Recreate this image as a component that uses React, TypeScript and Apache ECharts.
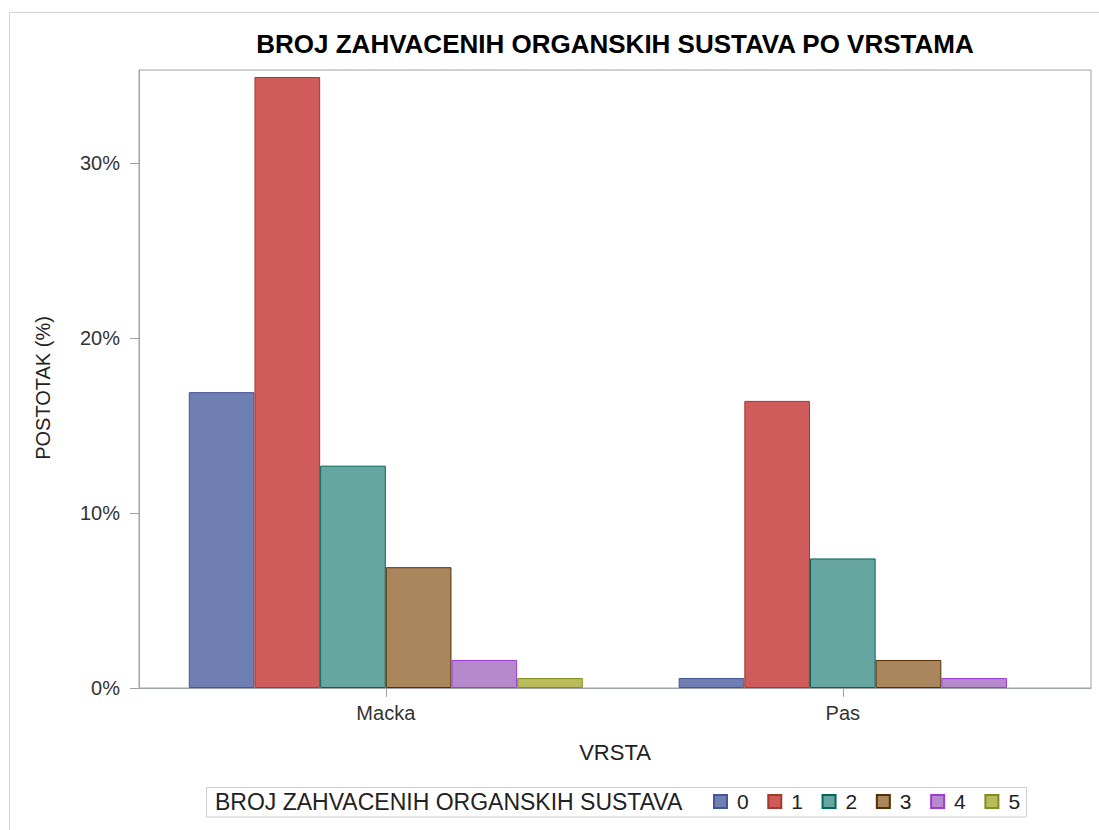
import React, { useEffect, useRef } from "react";
import * as echarts from "echarts";

const categories = ["Macka", "Pas"];
const groups = ["0", "1", "2", "3", "4", "5"];
const mackaValues = [16.9, 34.9, 12.7, 6.9, 1.6, 0.57];
const pasValues = [0.57, 16.4, 7.4, 1.6, 0.57];
const yTicks = [0, 10, 20, 30];
const fillColors = ["#6F7EB3", "#D05B5B", "#66A5A0", "#A9865B", "#B689CD", "#BABC5C"];
const borderColors = ["#445694", "#A23A2E", "#01665E", "#543005", "#9D3CDB", "#7F8E1F"];

const FONT = "Liberation Sans, Arial, sans-serif";

export default function App() {
  const ref = useRef<HTMLDivElement>(null);
  useEffect(() => {
    if (!ref.current) return;
    const chart = echarts.init(ref.current, null, { renderer: "svg" });
    const axisColor = "#9ea2a8";
    const series: any[] = [];
    groups.forEach((g, i) => {
      series.push({
        type: "bar",
        name: g,
        xAxisIndex: 0,
        yAxisIndex: 0,
        barWidth: 65.67,
        barGap: "0%",
        data: [[0, mackaValues[i]]],
        itemStyle: { color: fillColors[i], borderColor: borderColors[i], borderWidth: 1 },
      });
    });
    pasValues.forEach((v, i) => {
      series.push({
        type: "bar",
        name: groups[i],
        xAxisIndex: 1,
        yAxisIndex: 0,
        barWidth: 65.67,
        barGap: "0%",
        data: [[1, v]],
        itemStyle: { color: fillColors[i], borderColor: borderColors[i], borderWidth: 1 },
      });
    });
    chart.setOption({
      animation: false,
      backgroundColor: "#ffffff",
      title: {
        text: "BROJ ZAHVACENIH ORGANSKIH SUSTAVA PO VRSTAMA",
        left: 615,
        top: 31,
        padding: 0,
        textAlign: "center",
        textStyle: { fontFamily: FONT, fontSize: 26, fontWeight: "bold", color: "#000" },
      },
      grid: {
        left: 139,
        right: 8,
        top: 70,
        bottom: 142,
        show: true,
        borderColor: axisColor,
        borderWidth: 1,
      },
      legend: {
        data: groups,
        left: 713,
        top: 791,
        padding: 0,
        icon: "rect",
        itemWidth: 13,
        itemHeight: 13,
        itemGap: 18.6,
        textStyle: { fontFamily: FONT, fontSize: 21, color: "#222", padding: [0, 0, 0, 5] },
      },
      xAxis: [
        {
          type: "value",
          min: -0.54,
          max: 1.543,
          name: "VRSTA",
          nameLocation: "middle",
          nameGap: 53,
          nameTextStyle: { fontFamily: FONT, fontSize: 22, color: "#222" },
          axisLine: { show: true, onZero: false, lineStyle: { color: axisColor } },
          axisTick: { show: true, customValues: [0, 1], length: 9, lineStyle: { color: axisColor } },
          axisLabel: {
            customValues: [0, 1],
            formatter: (v: number) => categories[Math.round(v)] ?? "",
            margin: 15,
            fontFamily: FONT,
            fontSize: 20,
            color: "#333",
          },
          splitLine: { show: false },
        },
        {
          type: "value",
          min: -0.54,
          max: 1.543,
          show: false,
          splitLine: { show: false },
        },
      ],
      yAxis: {
        type: "value",
        min: 0,
        max: 35.3,
        axisLine: { show: true, onZero: false, lineStyle: { color: axisColor } },
        axisTick: { show: true, customValues: yTicks, length: 9, lineStyle: { color: axisColor } },
        axisLabel: {
          customValues: yTicks,
          formatter: "{value}%",
          margin: 19,
          fontFamily: FONT,
          fontSize: 20,
          color: "#333",
        },
        splitLine: { show: false },
      },
      graphic: [
        {
          type: "rect",
          shape: { x: 9.5, y: 12.5, width: 1100, height: 830 },
          style: { fill: "none", stroke: "#d4d4d4", lineWidth: 1 },
          silent: true,
        },
        {
          type: "rect",
          shape: { x: 206.5, y: 787.5, width: 820, height: 29.5 },
          style: { fill: "none", stroke: "#cfcfcf", lineWidth: 1 },
          silent: true,
        },
        {
          type: "text",
          x: 215,
          y: 802,
          style: {
            text: "BROJ ZAHVACENIH ORGANSKIH SUSTAVA",
            fontFamily: FONT,
            fontSize: 23,
            fill: "#222",
            verticalAlign: "middle",
            align: "left",
          },
          silent: true,
        },
        {
          type: "text",
          x: 43,
          y: 388,
          rotation: Math.PI / 2,
          style: {
            text: "POSTOTAK (%)",
            fontFamily: FONT,
            fontSize: 20,
            fill: "#222",
            verticalAlign: "middle",
            align: "center",
          },
          silent: true,
        },
      ],
      series,
    });
    return () => chart.dispose();
  }, []);
  return (
    <div
      ref={ref}
      style={{ position: "fixed", left: 0, top: 0, width: 1099, height: 830 }}
    />
  );
}
